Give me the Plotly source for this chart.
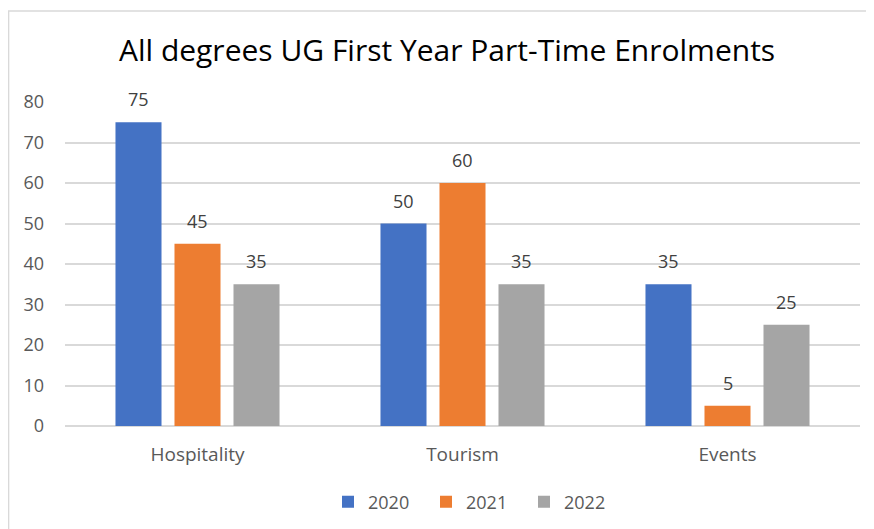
import plotly.graph_objects as go

categories = ["Hospitality", "Tourism", "Events"]
series_names = ["2020", "2021", "2022"]
values_2020 = [75, 50, 35]
values_2021 = [45, 60, 5]
values_2022 = [35, 35, 25]
y_ticks = [0, 10, 20, 30, 40, 50, 60, 70, 80]

colors = ["#4472C4", "#ED7D31", "#A5A5A5"]
all_values = [values_2020, values_2021, values_2022]

fig = go.Figure()
for name, vals, col in zip(series_names, all_values, colors):
    fig.add_trace(go.Bar(
        x=categories, y=vals, name=name,
        marker=dict(color=col, line=dict(width=0)),
    ))

FONT = "Open Sans, Noto Sans, sans-serif"
slot_px = 59
for i, vals in enumerate(all_values):
    for cat, v in zip(categories, vals):
        fig.add_annotation(
            x=cat, y=v, text=str(v), showarrow=False,
            xshift=(i - 1) * slot_px, yshift=9, yanchor="bottom",
            font=dict(family=FONT, size=18, color="#404040"),
        )

fig.add_shape(type="rect", xref="paper", yref="paper",
              x0=-0.071, x1=1.2, y0=-0.6, y1=1.281,
              line=dict(color="#D9D9D9", width=1.5), fillcolor="rgba(0,0,0,0)", layer="below")

fig.update_layout(
    width=866, height=521,
    margin=dict(l=57, r=14, t=94, b=103),
    paper_bgcolor="white", plot_bgcolor="white",
    barmode="group", bargap=0.332, bargroupgap=0.22,
    title=dict(text="All degrees UG First Year Part-Time Enrolments",
               x=0.507, xanchor="center", y=0.919, yanchor="middle",
               font=dict(family=FONT, size=30, color="#000000")),
    font=dict(family=FONT, color="#595959", size=18),
    legend=dict(orientation="h", xref="container", yref="container",
                x=320 / 866, xanchor="left", y=1 - 494 / 521, yanchor="middle",
                font=dict(family=FONT, size=18, color="#595959"),
                itemwidth=30, entrywidth=53, entrywidthmode="pixels",
                traceorder="normal"),
    showlegend=True,
)
fig.update_yaxes(range=[0, 80], tickvals=y_ticks, showgrid=True, gridcolor="#D9D9D9",
                 gridwidth=1.5, zeroline=True, zerolinecolor="#D9D9D9", zerolinewidth=1.5,
                 ticks="", ticklabelstandoff=20, tickfont=dict(size=18, color="#595959"),
                 fixedrange=True)
fig.update_xaxes(showline=False, ticks="", ticklabelstandoff=15,
                 tickfont=dict(size=19, color="#595959"))

fig.write_html("out.html")
